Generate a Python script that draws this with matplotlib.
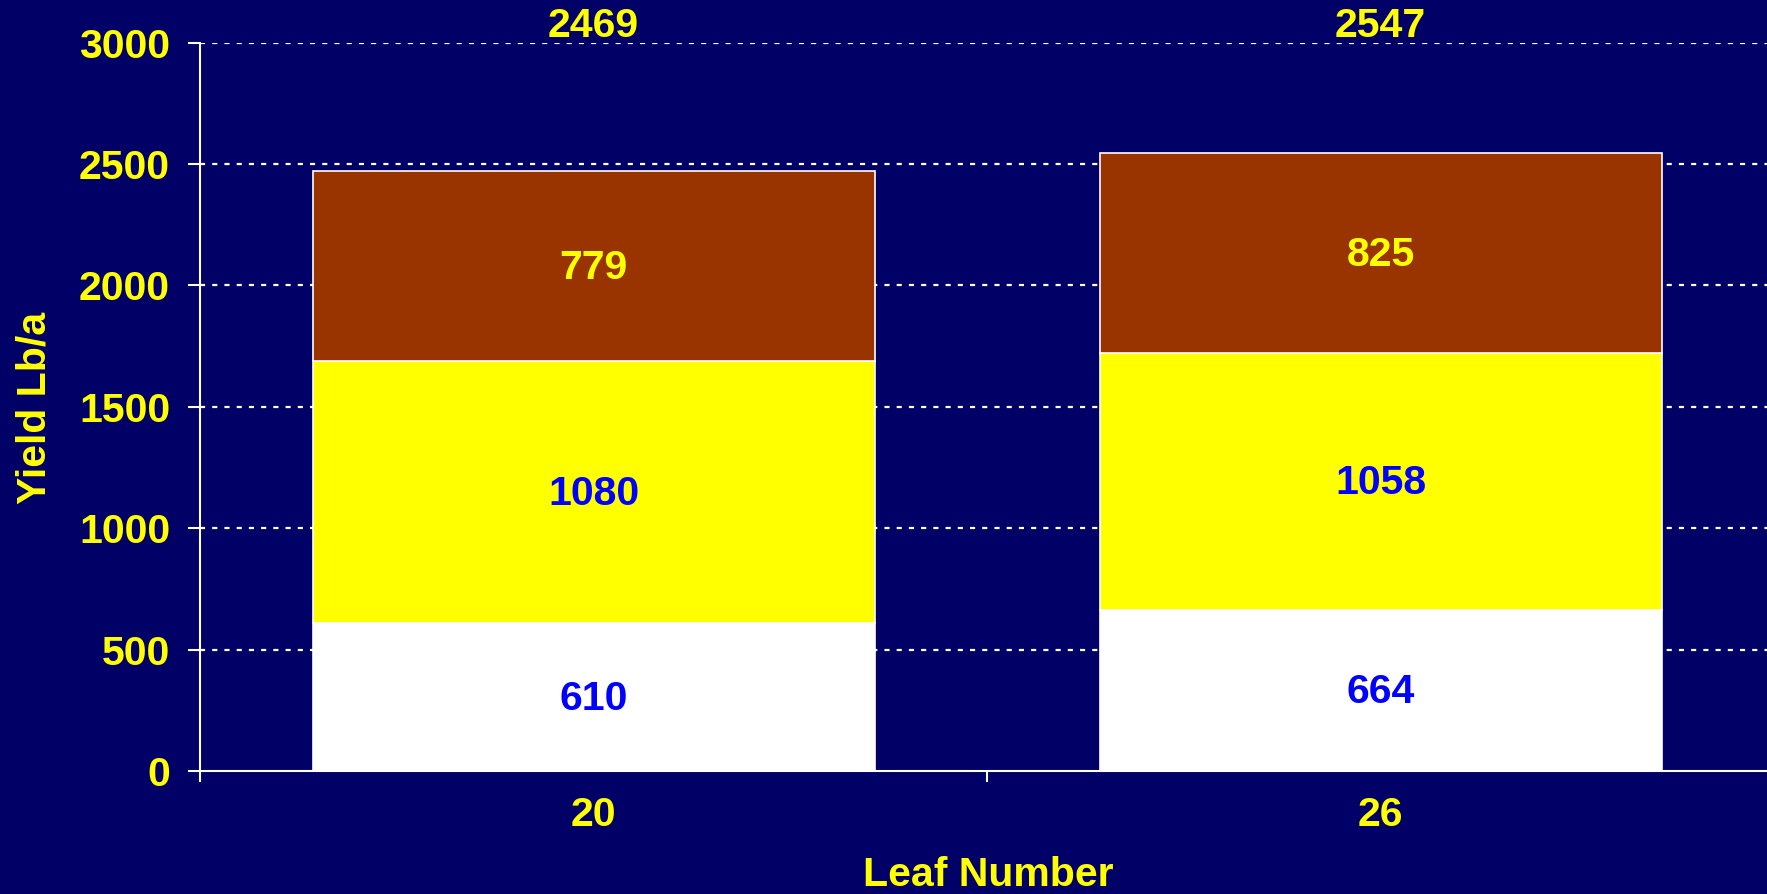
import matplotlib
matplotlib.use("Agg")
import matplotlib.pyplot as plt
import matplotlib.transforms as mtransforms
import numpy as np

plt.rcParams['font.family'] = ['Liberation Sans', 'DejaVu Sans']
plt.rcParams['font.weight'] = 'bold'

# Data
leaf_numbers = ['20', '26']
white_part = [610, 664]
yellow_part = [1080, 1058]
brown_part = [779, 825]
totals = [2469, 2547]

BG = '#000066'
BROWN = '#993300'
YELLOW = '#FFFF00'
BLUE = '#0000FF'
FS = 29.5

fig = plt.figure(figsize=(17.67, 8.94), dpi=100, facecolor=BG)
ax = fig.add_axes([0.1132, 0.1376, 0.8908, 0.8148], facecolor=BG)

x = np.arange(len(leaf_numbers)) + 0.5
w = 0.714
white_part = np.array(white_part)
yellow_part = np.array(yellow_part)
brown_part = np.array(brown_part)

ax.bar(x, white_part, w, color='white', edgecolor='white', linewidth=1.2, zorder=3)
ax.bar(x, yellow_part, w, bottom=white_part, color=YELLOW, edgecolor='white', linewidth=1.2, zorder=3)
ax.bar(x, brown_part, w, bottom=white_part + yellow_part, color=BROWN, edgecolor='white', linewidth=1.2, zorder=3)

# segment labels (nudged a hair down so the digits sit centred)
nudge = 8
for i in range(len(x)):
    ax.text(x[i], white_part[i] / 2 - nudge, str(white_part[i]), ha='center', va='center',
            color=BLUE, fontsize=FS, fontweight='bold', zorder=4)
    ax.text(x[i], white_part[i] + yellow_part[i] / 2 - nudge, str(yellow_part[i]), ha='center', va='center',
            color=BLUE, fontsize=FS, fontweight='bold', zorder=4)
    ax.text(x[i], white_part[i] + yellow_part[i] + brown_part[i] / 2 - nudge, str(brown_part[i]),
            ha='center', va='center', color=YELLOW, fontsize=FS, fontweight='bold', zorder=4)

# totals above the plot
trans = mtransforms.blended_transform_factory(ax.transData, ax.transAxes)
for i in range(len(x)):
    ax.text(x[i], 1.0234, str(totals[i]), transform=trans, ha='center', va='center',
            color=YELLOW, fontsize=FS, fontweight='bold', clip_on=False)

ax.set_xlim(0, 2)
ax.set_ylim(0, 3000)
ax.set_yticks(np.arange(0, 3001, 500))

# grid
for yv in np.arange(500, 3001, 500):
    ax.axhline(yv, color='white', linewidth=1.6, dashes=(2.3, 3.2), zorder=1)

ax.set_xticks([0, 1, 2])
ax.set_xticklabels([])
ax.set_xticks(x, minor=True)
ax.set_xticklabels(leaf_numbers, minor=True)
ax.tick_params(axis='x', which='major', length=8, width=1.5, color='white', direction='out')
ax.tick_params(axis='x', which='minor', length=0, pad=18, labelsize=FS, labelcolor=YELLOW)
ax.tick_params(axis='y', length=8.6, width=1.5, color='white', pad=13, labelsize=FS, labelcolor=YELLOW)

for s in ['top', 'right']:
    ax.spines[s].set_visible(False)
for s in ['left', 'bottom']:
    ax.spines[s].set_color('white')
    ax.spines[s].set_linewidth(1.5)

ax.set_ylabel('Yield Lb/a', color=YELLOW, fontsize=FS, fontweight='bold', va='center')
ax.yaxis.set_label_coords(-0.1054, 0.498)
ax.set_xlabel('Leaf Number', color=YELLOW, fontsize=FS, fontweight='bold')
ax.xaxis.set_label_coords(0.5006, -0.117)

plt.savefig('out.png', dpi=100, facecolor=BG)
